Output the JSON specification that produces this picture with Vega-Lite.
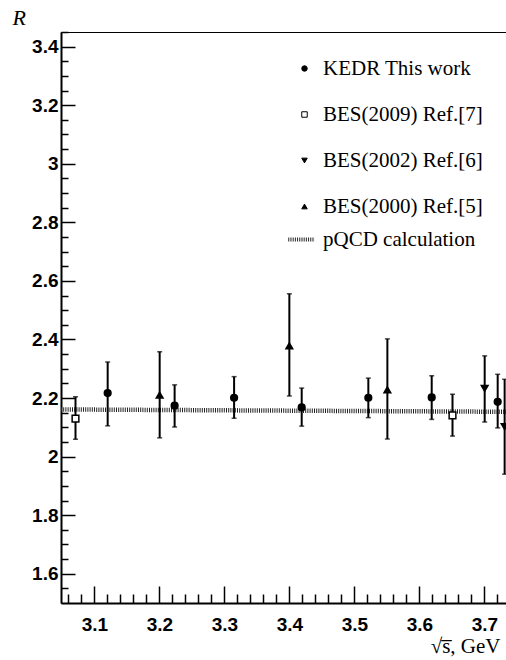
{
  "$schema": "https://vega.github.io/schema/vega-lite/v6.json",
  "autosize": {"type": "none"},
  "padding": {"left": 61, "top": 32, "right": 0, "bottom": 57},
  "width": 445,
  "height": 571,
  "background": "white",
  "config": {
    "view": {"stroke": "black", "strokeWidth": 1},
    "axis": {
      "domainColor": "black", "domainWidth": 2, "tickColor": "black", "tickWidth": 1.5,
      "grid": false, "labelFont": "Liberation Sans", "labelFontWeight": "bold", "labelFontSize": 19,
      "labelColor": "black", "titleColor": "black"
    },
    "legend": {"labelFont": "Liberation Serif", "labelFontSize": 21, "labelColor": "black"}
  },
  "datasets": {
    "meas": [
      {"x": 3.071, "r": 2.13, "lo": 2.059, "hi": 2.204, "series": "BES(2009) Ref.[7]"},
      {"x": 3.1205, "r": 2.217, "lo": 2.105, "hi": 2.323, "series": "KEDR This work"},
      {"x": 3.2005, "r": 2.21, "lo": 2.064, "hi": 2.358, "series": "BES(2000) Ref.[5]"},
      {"x": 3.2235, "r": 2.174, "lo": 2.101, "hi": 2.245, "series": "KEDR This work"},
      {"x": 3.315, "r": 2.201, "lo": 2.131, "hi": 2.273, "series": "KEDR This work"},
      {"x": 3.4, "r": 2.378, "lo": 2.207, "hi": 2.556, "series": "BES(2000) Ref.[5]"},
      {"x": 3.419, "r": 2.168, "lo": 2.104, "hi": 2.234, "series": "KEDR This work"},
      {"x": 3.5215, "r": 2.201, "lo": 2.133, "hi": 2.268, "series": "KEDR This work"},
      {"x": 3.5508, "r": 2.228, "lo": 2.06, "hi": 2.402, "series": "BES(2000) Ref.[5]"},
      {"x": 3.619, "r": 2.202, "lo": 2.127, "hi": 2.276, "series": "KEDR This work"},
      {"x": 3.651, "r": 2.141, "lo": 2.07, "hi": 2.213, "series": "BES(2009) Ref.[7]"},
      {"x": 3.7005, "r": 2.233, "lo": 2.118, "hi": 2.344, "series": "BES(2002) Ref.[6]"},
      {"x": 3.7205, "r": 2.187, "lo": 2.098, "hi": 2.281, "series": "KEDR This work"},
      {"x": 3.7312, "r": 2.102, "lo": 1.94, "hi": 2.264, "series": "BES(2002) Ref.[6]"}
    ],
    "qcd": [
      {"x": 3.0487, "r": 2.161, "model": "pQCD calculation"},
      {"x": 3.7333, "r": 2.153, "model": "pQCD calculation"}
    ]
  },
  "resolve": {"axis": {"x": "independent", "y": "independent"}},
  "layer": [
    {
      "data": {"name": "qcd"},
      "mark": {"type": "line", "strokeWidth": 4.5, "strokeDash": [1, 1.2]},
      "encoding": {
        "x": {"field": "x", "type": "quantitative",
          "scale": {"domain": [3.0487, 3.7333], "nice": false, "zero": false},
          "axis": {"orient": "bottom", "values": [3.1, 3.2, 3.3, 3.4, 3.5, 3.6, 3.7], "tickSize": -17,
            "labelPadding": 29, "labelExpr": "'' + datum.value", "labelFlush": false,
            "title": "√s̅, GeV", "titleFont": "Liberation Serif", "titleFontWeight": "normal", "titleFontSize": 21,
            "titleAnchor": "end", "titleAlign": "right", "titleBaseline": "alphabetic", "titleX": 439, "titleY": 49}},
        "y": {"field": "r", "type": "quantitative",
          "scale": {"domain": [1.5, 3.45], "nice": false, "zero": false},
          "axis": {"orient": "left", "values": [1.6, 1.8, 2, 2.2, 2.4, 2.6, 2.8, 3, 3.2, 3.4], "tickSize": -14,
            "labelPadding": 17, "labelExpr": "'' + datum.value", "labelFlush": false,
            "title": "R", "titleFont": "Liberation Serif", "titleFontStyle": "italic", "titleFontWeight": "normal",
            "titleFontSize": 22, "titleAngle": 0, "titleAlign": "left", "titleBaseline": "alphabetic",
            "titleX": -49, "titleY": -8}},
        "color": {"field": "model", "type": "nominal",
          "scale": {"range": ["#222222"]},
          "legend": {"title": null, "orient": "none", "legendX": 225, "legendY": 192, "padding": 0,
            "symbolType": "stroke", "symbolSize": 700, "symbolStrokeWidth": 4, "symbolDash": [1, 1.2],
            "labelFont": "Liberation Serif", "labelFontSize": 21, "labelColor": "black", "labelOffset": 6}}
      }
    },
    {
      "data": {"name": "meas"},
      "mark": {"type": "rule", "strokeWidth": 2, "color": "black"},
      "encoding": {
        "x": {"field": "x", "type": "quantitative",
          "axis": {"orient": "bottom", "values": [3.06, 3.08, 3.12, 3.14, 3.16, 3.18, 3.22, 3.24, 3.26, 3.28, 3.32, 3.34, 3.36, 3.38, 3.42, 3.44, 3.46, 3.48, 3.52, 3.54, 3.56, 3.58, 3.62, 3.64, 3.66, 3.68, 3.72],
            "tickSize": -9, "labels": false, "domain": false, "title": null}},
        "y": {"field": "lo", "type": "quantitative",
          "axis": {"orient": "left", "values": [1.55, 1.65, 1.7, 1.75, 1.85, 1.9, 1.95, 2.05, 2.1, 2.15, 2.25, 2.3, 2.35, 2.45, 2.5, 2.55, 2.65, 2.7, 2.75, 2.85, 2.9, 2.95, 3.05, 3.1, 3.15, 3.25, 3.3, 3.35, 3.45],
            "tickSize": -7, "labels": false, "domain": false, "title": null}},
        "y2": {"field": "hi"}
      }
    },
    {
      "data": {"name": "meas"},
      "mark": {"type": "tick", "orient": "horizontal", "size": 5, "thickness": 1.5, "color": "black"},
      "encoding": {
        "x": {"field": "x", "type": "quantitative", "axis": null},
        "y": {"field": "lo", "type": "quantitative", "axis": null}
      }
    },
    {
      "data": {"name": "meas"},
      "mark": {"type": "tick", "orient": "horizontal", "size": 5, "thickness": 1.5, "color": "black"},
      "encoding": {
        "x": {"field": "x", "type": "quantitative", "axis": null},
        "y": {"field": "hi", "type": "quantitative", "axis": null}
      }
    },
    {
      "data": {"name": "meas"},
      "mark": {"type": "point", "filled": true, "strokeWidth": 1.5, "opacity": 1, "size": 45},
      "encoding": {
        "x": {"field": "x", "type": "quantitative", "axis": null},
        "y": {"field": "r", "type": "quantitative", "axis": null},
        "shape": {"field": "series", "type": "nominal",
          "scale": {"domain": ["KEDR This work", "BES(2009) Ref.[7]", "BES(2002) Ref.[6]", "BES(2000) Ref.[5]"],
            "range": ["circle", "square", "triangle-down", "triangle-up"]},
          "legend": {"title": null, "orient": "none", "legendX": 233, "legendY": 26, "padding": 0,
            "rowPadding": 24, "symbolSize": 30, "symbolStrokeWidth": 1,
            "labelFont": "Liberation Serif", "labelFontSize": 21, "labelColor": "black", "labelOffset": 8}},
        "fill": {"field": "series", "type": "nominal",
          "scale": {"domain": ["KEDR This work", "BES(2009) Ref.[7]", "BES(2002) Ref.[6]", "BES(2000) Ref.[5]"],
            "range": ["black", "white", "black", "black"]},
          "legend": {"title": null, "orient": "none", "legendX": 233, "legendY": 26, "padding": 0,
            "rowPadding": 24, "symbolSize": 30, "symbolStrokeWidth": 1,
            "labelFont": "Liberation Serif", "labelFontSize": 21, "labelColor": "black", "labelOffset": 8}},
        "stroke": {"field": "series", "type": "nominal",
          "scale": {"domain": ["KEDR This work", "BES(2009) Ref.[7]", "BES(2002) Ref.[6]", "BES(2000) Ref.[5]"],
            "range": ["black", "black", "black", "black"]},
          "legend": {"title": null, "orient": "none", "legendX": 233, "legendY": 26, "padding": 0,
            "rowPadding": 24, "symbolSize": 30, "symbolStrokeWidth": 1,
            "labelFont": "Liberation Serif", "labelFontSize": 21, "labelColor": "black", "labelOffset": 8}}
      }
    }
  ]
}
